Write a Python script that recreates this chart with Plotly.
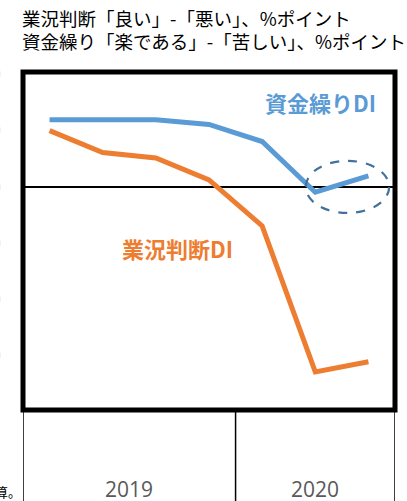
import plotly.graph_objects as go

quarters = ["2019Q1", "2019Q2", "2019Q3", "2019Q4", "2020Q1", "2020Q2", "2020Q3"]
years = ["2019", "2020"]
year_quarter_counts = [4, 3]
financing_di = [24.0, 24.0, 24.0, 22.3, 16.2, -1.9, 3.9]
business_di = [20.1, 12.3, 10.3, 2.5, -13.9, -66.0, -62.4]
y_ticks = [40, 20, 0, -20, -40, -60, -80]

xpos = [i + 0.5 for i in range(len(quarters))]

fig = go.Figure()
fig.add_trace(go.Scatter(x=xpos, y=financing_di, mode="lines", name="資金繰りDI",
                         line=dict(color="#5b9bd5", width=5), hoverinfo="skip"))
fig.add_trace(go.Scatter(x=xpos, y=business_di, mode="lines", name="業況判断DI",
                         line=dict(color="#ed7d31", width=5), hoverinfo="skip"))

CJK = "Noto Sans CJK JP"
fig.update_layout(
    width=407, height=501,
    margin=dict(l=23, r=12, t=72, b=91, autoexpand=False),
    paper_bgcolor="white", plot_bgcolor="white",
    showlegend=False,
    font=dict(family=CJK, color="black"),
    xaxis=dict(range=[0, len(quarters)], showgrid=False, zeroline=False,
               showticklabels=False, fixedrange=True, automargin=False),
    yaxis=dict(range=[-79.6, 41], tickvals=y_ticks, showgrid=False,
               zeroline=True, zerolinecolor="black", zerolinewidth=2,
               showticklabels=True, ticklabelstandoff=21, automargin=False,
               tickfont=dict(family="Open Sans", size=16, color="#bfbfbf"),
               fixedrange=True),
)

# thick plot frame
fig.add_shape(type="rect", xref="paper", yref="paper", x0=0, x1=1, y0=0, y1=1,
              line=dict(color="black", width=5))

# category separators below the frame
bounds = [0]
for c in year_quarter_counts:
    bounds.append(bounds[-1] + c)
for b in bounds:
    fig.add_shape(type="line", xref="x", yref="paper", x0=b, x1=b, y0=0, y1=-0.3,
                  line=dict(color="black", width=1.5))
for i, yr in enumerate(years):
    fig.add_annotation(x=(bounds[i] + bounds[i + 1]) / 2, xref="x", y=-(489 - 410) / 338, yref="paper",
                       text=yr, showarrow=False, yanchor="middle",
                       font=dict(family="Open Sans", size=21, color="#595959"))

# dashed ellipse around the last financing DI points
fig.add_shape(type="circle", xref="x", yref="y",
              x0=5.32, x1=6.89, y0=-9.3, y1=9.3,
              line=dict(color="#41719c", width=2.2, dash="dash"))

# series labels
fig.add_annotation(x=5.59, xref="x", y=30.4, yref="y", text="<b>資金繰りDI</b>",
                   showarrow=False, font=dict(family=CJK, size=22, color="#5b9bd5"))
fig.add_annotation(x=2.9, xref="x", y=-21.8, yref="y", text="<b>業況判断DI</b>",
                   showarrow=False, font=dict(family=CJK, size=22, color="#ed7d31"))

# title lines
fig.add_annotation(x=-3 / 372, xref="paper", y=1 + (72 - 18.5) / 338, yref="paper",
                   text="業況判断「良い」-「悪い」、%ポイント", showarrow=False,
                   xanchor="left", yanchor="middle", font=dict(family=CJK, size=18.5, color="black"))
fig.add_annotation(x=-3 / 372, xref="paper", y=1 + (72 - 40.5) / 338, yref="paper",
                   text="資金繰り「楽である」-「苦しい」、%ポイント", showarrow=False,
                   xanchor="left", yanchor="middle", font=dict(family=CJK, size=18.5, color="black"))

# cut-off note at bottom left
fig.add_annotation(x=0.0, xref="paper", y=-(492 - 410) / 338, yref="paper",
                   text="計算。", showarrow=False, xanchor="right", yanchor="middle",
                   font=dict(family=CJK, size=13, color="black"))

fig.write_html("out.html", config={"displayModeBar": False},
               post_script="document.body.style.margin='0';")
